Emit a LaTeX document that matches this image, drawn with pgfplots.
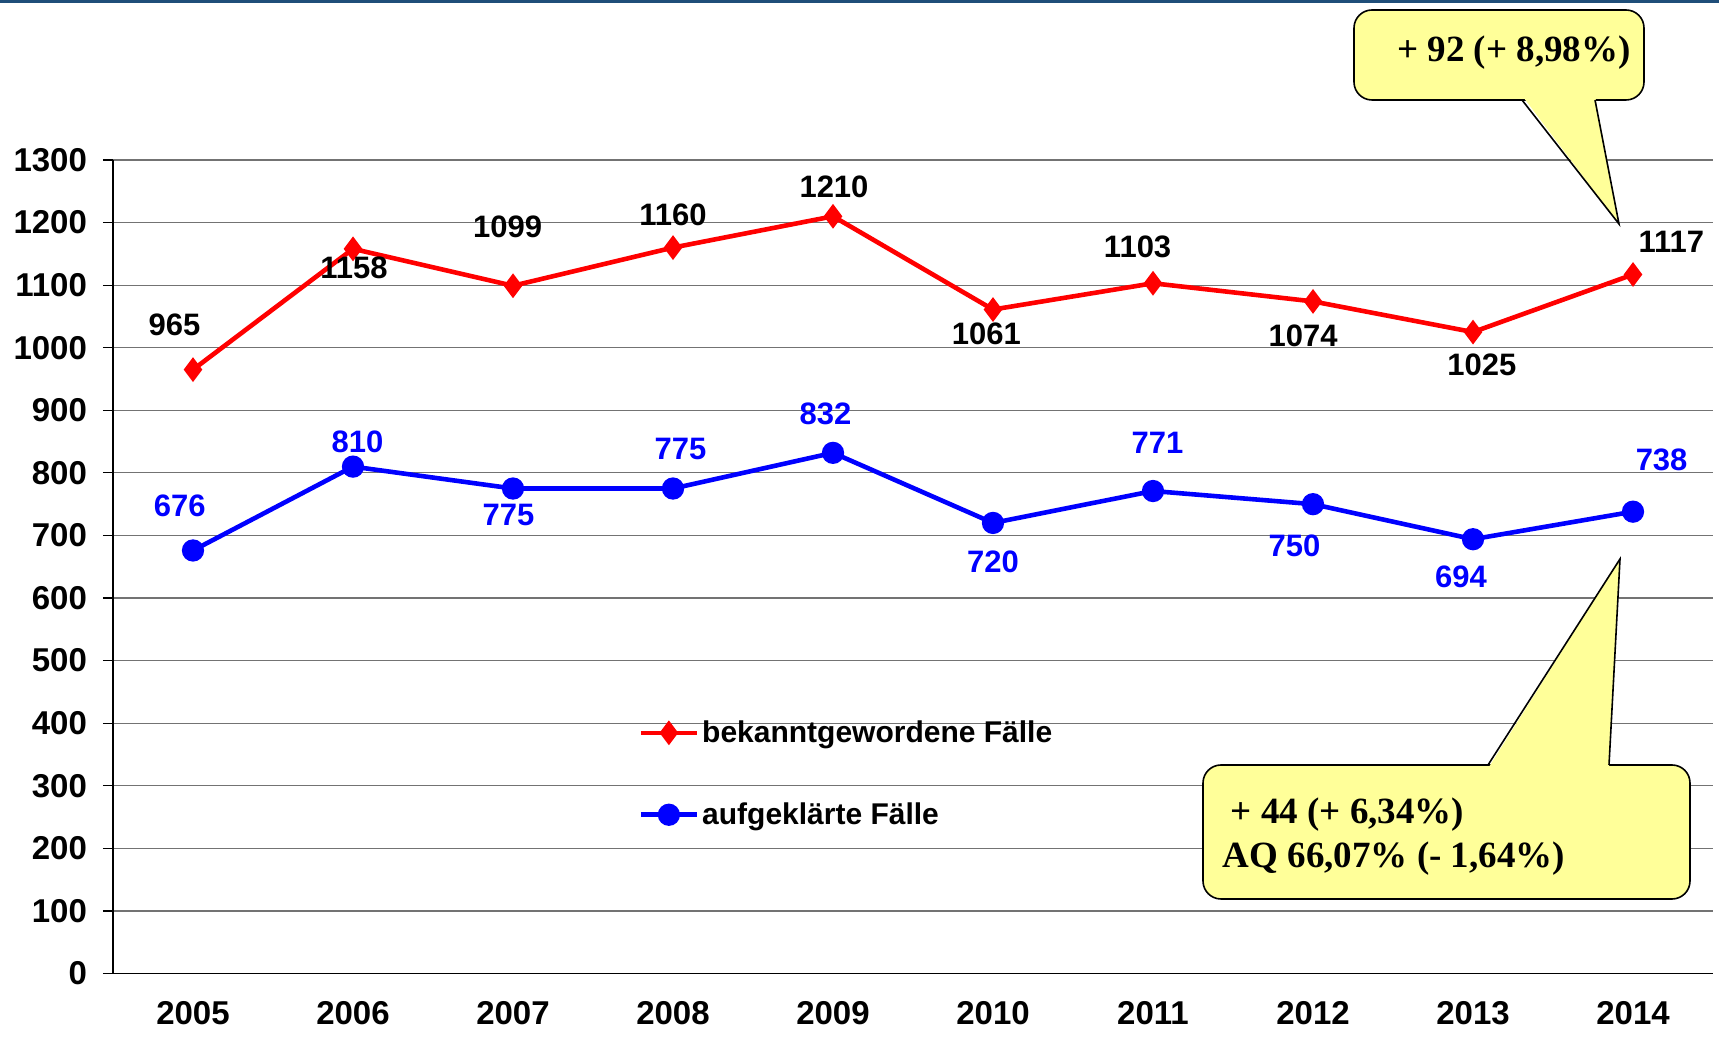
\documentclass[border=0pt]{standalone}
\usepackage{pgfplots}
\pgfplotsset{compat=1.18}
\usepackage{pgfplotstable}
\usepackage{fontspec}
\setmainfont{Liberation Sans}
\newfontfamily\serifbf{Liberation Serif}
\definecolor{cred}{RGB}{255,0,0}
\definecolor{cblue}{RGB}{0,0,255}
\definecolor{cyellow}{RGB}{255,255,153}
\definecolor{topblue}{RGB}{31,78,121}

\pgfplotstableread{
x y dx dy lab
0 965 -9.3 22.5 965
1 1158 0.5 -9.3 1158
2 1099 -2.7 29.6 1099
3 1160 0 16.4 1160
4 1210 0.5 14.8 1210
5 1061 -3.3 -12.1 1061
6 1103 -7.7 18.1 1103
7 1074 -4.9 -17 1074
8 1025 4.4 -16.4 1025
9 1117 19.2 16.4 1117
}\redtab

\pgfplotstableread{
x y dx dy lab
0 676 -6.6 22.5 676
1 810 2.2 12.6 810
2 775 -2.2 -13.2 775
3 775 3.8 19.7 775
4 832 -3.8 19.7 832
5 720 0 -19.2 720
6 771 2.2 24.1 771
7 750 -9.3 -20.8 750
8 694 -6 -18.6 694
9 738 14.3 25.8 738
}\bluetab

\pgfplotsset{
  lbl/.style={
    forget plot, draw=none, mark=none,
    nodes near coords,
    point meta=explicit symbolic,
    visualization depends on={\thisrow{dx} \as \dx},
    visualization depends on={\thisrow{dy} \as \dy},
    nodes near coords style={anchor=center, xshift=\dx pt, yshift=\dy pt,
      font=\bfseries\fontsize{15.5}{15.5}\selectfont, text=#1},
  }
}

\begin{document}
\begin{tikzpicture}
\useasboundingbox (-56.5pt,-32.25pt) rectangle (803pt,486.75pt);
\draw[topblue, line width=1.4pt] (-56.5pt,486.05pt) -- (803pt,486.05pt);
\begin{axis}[
  scale only axis, width=800pt, height=406.75pt,
  at={(0,0)}, anchor=south west,
  xmin=-0.5, xmax=9.5, ymin=0, ymax=1300,
  axis lines=left, axis line style={-, black, line width=0.8pt},
  xtick={0,...,9},
  xticklabels={2005,2006,2007,2008,2009,2010,2011,2012,2013,2014},
  xtick style={draw=none},
  minor xtick={-0.5,0.5,...,9.5},
  minor x tick style={black, line width=0.6pt},
  minor tick length=4.5pt,
  ytick={0,100,...,1300},
  ytick style={black, line width=0.6pt},
  tick align=outside, major tick length=5pt,
  ymajorgrids, major grid style={black!55, line width=0.6pt},
  tick label style={font=\bfseries\fontsize{16.5}{16.5}\selectfont},
  xticklabel style={yshift=-5.5pt},
  yticklabel style={xshift=-4.5pt},
  /pgf/number format/assume math mode=true,
  /pgf/number format/set thousands separator={},
  clip=false,
  legend style={at={(rel axis cs:0.3245,0.2455)}, anchor=west, draw=none, fill=none,
    font=\bfseries\fontsize{15}{15}\selectfont, row sep=24.6pt,
    nodes={inner xsep=1.5pt}},
  legend cell align=left,
  legend image code/.code={\draw[mark repeat=2,mark phase=2,#1] plot coordinates {(0pt,0pt) (14pt,0pt) (28pt,0pt)};},
]
\addplot[cred, line width=2.3pt, mark=diamond*, mark size=4.3pt, mark options={solid}]
  table[x=x, y=y] {\redtab};
\addlegendentry{bekanntgewordene Fälle}
\addplot[cblue, line width=2.3pt, mark=*, mark size=4.4pt, mark options={solid}]
  table[x=x, y=y] {\bluetab};
\addlegendentry{aufgeklärte Fälle}
\addplot[lbl=black] table[x=x, y=y, meta=lab] {\redtab};
\addplot[lbl=cblue] table[x=x, y=y, meta=lab] {\bluetab};
\end{axis}
\begin{scope}[x=1pt, y=1pt, line width=0.8pt]
  % callout 1
  \draw[fill=cyellow, rounded corners=9pt] (620.5,436.75) rectangle (765.5,481.75);
  \fill[cyellow] (704.5,439) -- (753,374.75) -- (741,439) -- cycle;
  \draw (704.5,436.75) -- (753,374.75) -- (741,436.75);
  \node[font=\serifbf\bfseries\fontsize{18.5}{18.5}\selectfont, anchor=center] at (700.5,460.25) {+ 92 (+ 8,98\%)};
  % callout 2
  \draw[fill=cyellow, rounded corners=9pt] (545,37.25) rectangle (788.5,104.25);
  \fill[cyellow] (687.5,102.5) -- (753.5,207.25) -- (748,102.5) -- cycle;
  \draw (687.5,104.25) -- (753.5,207.25) -- (748,104.25);
  \node[font=\serifbf\bfseries\fontsize{18.5}{18.5}\selectfont, anchor=west, inner sep=0pt] at (558.5,79.25) {+ 44 (+ 6,34\%)};
  \node[font=\serifbf\bfseries\fontsize{18.5}{18.5}\selectfont, anchor=west, inner sep=0pt] at (554.5,57.25) {AQ 66,07\% (- 1,64\%)};
\end{scope}
\end{tikzpicture}
\end{document}
